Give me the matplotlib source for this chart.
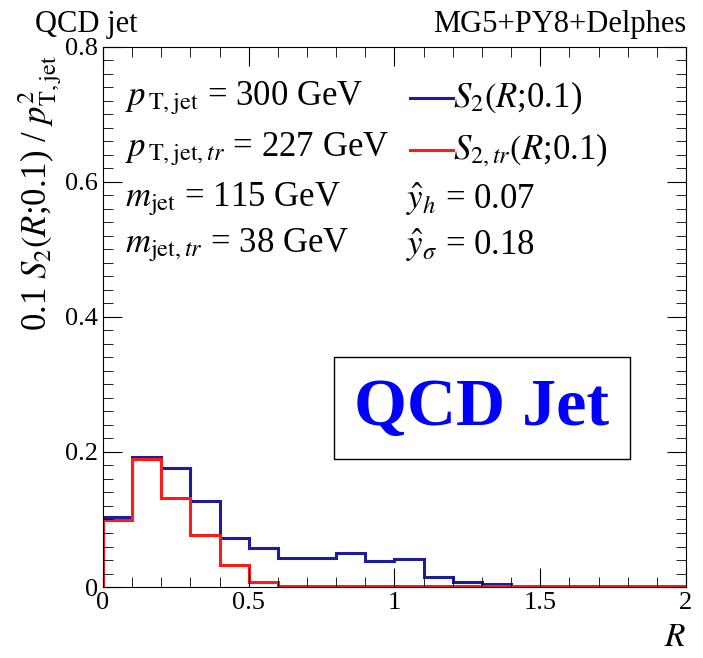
import matplotlib
matplotlib.use('Agg')
import matplotlib.pyplot as plt
from matplotlib.ticker import MultipleLocator

plt.rcParams['font.family'] = ['Liberation Serif', 'DejaVu Serif']
plt.rcParams['mathtext.fontset'] = 'stix'

# bin edges in R (width 0.1 from 0 to 2)
bin_edges = [round(0.1 * i, 1) for i in range(21)]
# S2(R;0.1) for the full jet
s2_full = [0.103, 0.193, 0.177, 0.127, 0.073, 0.058, 0.043, 0.043, 0.051, 0.038,
           0.041, 0.015, 0.007, 0.004, 0.0, 0.0, 0.0, 0.0, 0.0, 0.0]
# S2 for the trimmed jet
s2_trim = [0.099, 0.189, 0.132, 0.077, 0.032, 0.007, 0.002, 0.001, 0.001, 0.001,
           0.001, 0.001, 0.001, 0.001, 0.001, 0.001, 0.001, 0.001, 0.001, 0.001]

x_ticks = [0, 0.5, 1, 1.5, 2]
x_labels = ['0', '0.5', '1', '1.5', '2']
y_ticks = [0, 0.2, 0.4, 0.6, 0.8]
y_labels = ['0', '0.2', '0.4', '0.6', '0.8']

blue = '#1c1c9c'
red = '#ff1a1a'

fig = plt.figure(figsize=(7.03, 6.58), dpi=100)
ax = fig.add_axes([0.1465, 0.1079, 0.8293, 0.8207])

ax.stairs(s2_full, bin_edges, color=blue, lw=2.2)
ax.stairs(s2_trim, bin_edges, color=red, lw=2.2)

ax.set_xlim(0, 2)
ax.set_ylim(0, 0.8)
ax.set_xticks(x_ticks)
ax.set_xticklabels(x_labels)
ax.set_yticks(y_ticks)
ax.set_yticklabels(y_labels)
ax.xaxis.set_minor_locator(MultipleLocator(0.1))
ax.yaxis.set_minor_locator(MultipleLocator(0.02))
ax.tick_params(which='both', direction='in', top=True, right=True, labelsize=19)
ax.tick_params(which='major', length=14)
ax.tick_params(which='minor', length=7)

ax.set_ylabel(r'0.1 $S_2(R$;0.1) / $p^2_{\rm T,jet}$', fontsize=25)
ax.yaxis.set_label_coords(-0.068, 0.73)
ax.set_xlabel(r'$R$', fontsize=24, loc='right', labelpad=6)

fig.text(0.05, 0.952, 'QCD jet', fontsize=22)
fig.text(0.976, 0.952, 'MG5+PY8+Delphes', fontsize=22, ha='right')

# in-plot legend text
ts = 25
rows = [0.905, 0.81, 0.717, 0.632]
ax.text(0.038, rows[0], r'$p_{\,\rm T,jet}$ = 300 GeV', transform=ax.transAxes, fontsize=ts, va='center')
ax.text(0.038, rows[1], r'$p_{\,\mathrm{T,jet,}tr}$ = 227 GeV', transform=ax.transAxes, fontsize=ts, va='center')
ax.text(0.038, rows[2], r'$m_{\rm jet}$ = 115 GeV', transform=ax.transAxes, fontsize=ts, va='center')
ax.text(0.038, rows[3], r'$m_{\mathrm{jet,}tr}$ = 38 GeV', transform=ax.transAxes, fontsize=ts, va='center')
ax.plot([0.527, 0.6], [rows[0], rows[0]], color=blue, lw=2.2, transform=ax.transAxes)
ax.plot([0.527, 0.6], [rows[1], rows[1]], color=red, lw=2.2, transform=ax.transAxes)
ax.text(0.6, rows[0], r'$S_2(R$;0.1)', transform=ax.transAxes, fontsize=ts, va='center')
ax.text(0.6, rows[1], r'$S_{2,tr}(R$;0.1)', transform=ax.transAxes, fontsize=ts, va='center')
ax.text(0.52, rows[2], r'$\hat{y}_h$ = 0.07', transform=ax.transAxes, fontsize=ts, va='center')
ax.text(0.52, rows[3], r'$\hat{y}_\sigma$ = 0.18', transform=ax.transAxes, fontsize=ts, va='center')

ax.text(0.65, 0.331, 'QCD Jet', transform=ax.transAxes, fontsize=49, color='#0000ff',
        fontweight='bold', ha='center', va='center',
        bbox=dict(boxstyle='square,pad=0.3', fc='white', ec='black', lw=1))

fig.savefig('out.png', dpi=100)
